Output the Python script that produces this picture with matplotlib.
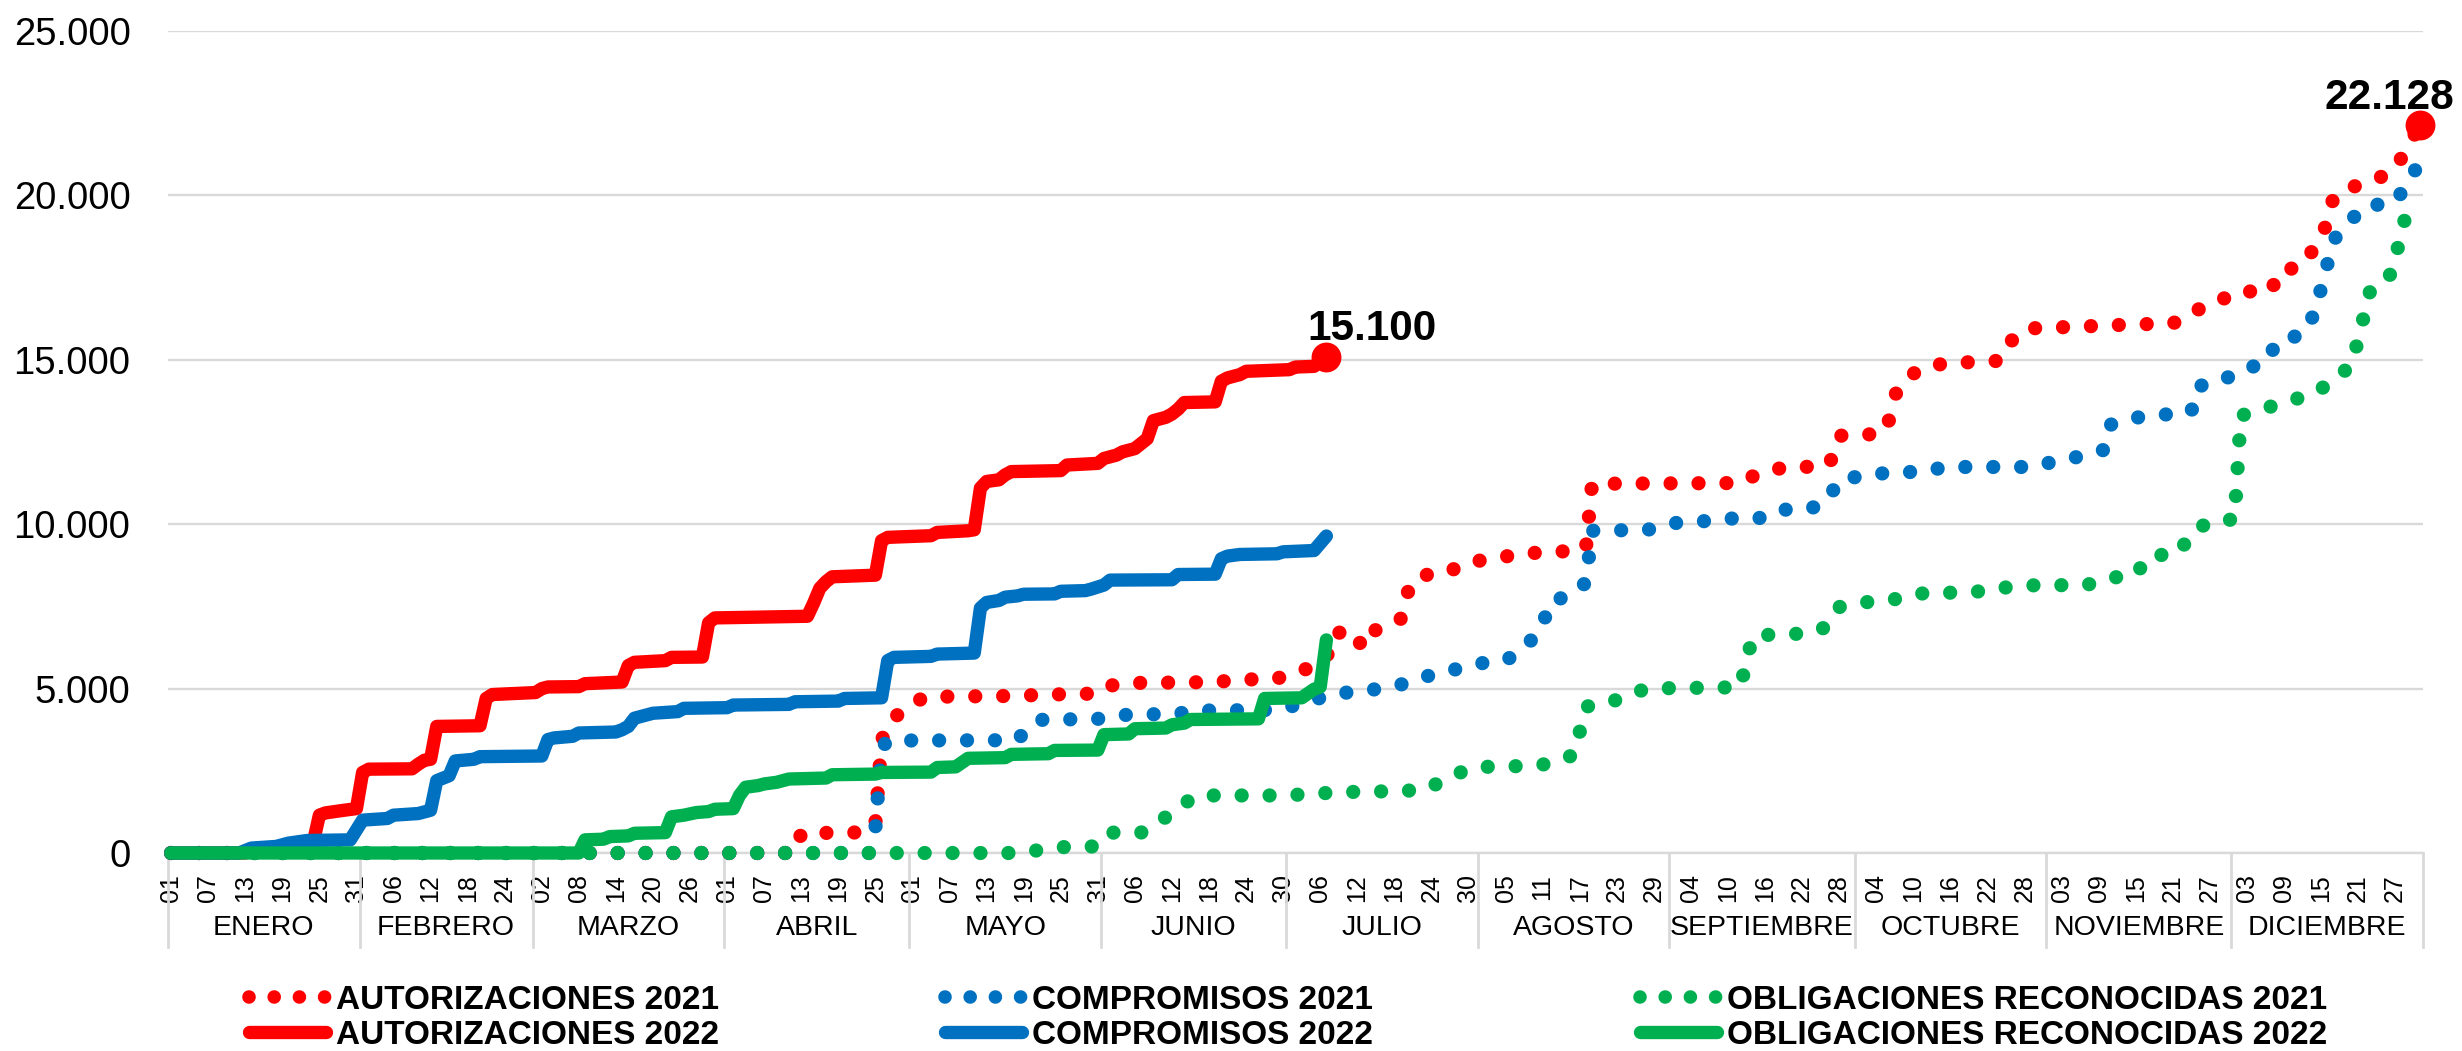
import matplotlib
matplotlib.use("Agg")
import matplotlib.pyplot as plt
import matplotlib.transforms as mtransforms
from matplotlib.lines import Line2D
from matplotlib.ticker import FuncFormatter

plt.rcParams["font.family"] = ["Liberation Sans", "DejaVu Sans"]

# day index 0 = 01 enero, 364 = 31 diciembre; values as cumulative amounts
aut22_days = [0, 12, 13, 17, 19, 22, 23, 24, 25, 28, 30, 31, 32, 39, 40, 41, 42, 43, 50, 51, 52,
              59, 60, 61, 66, 67, 73, 74, 75, 80, 81, 86, 87, 88, 103, 104, 105, 106, 107, 114,
              115, 116, 123, 124, 129, 130, 131, 132, 134, 135, 136, 144, 145, 150, 151, 153, 154,
              156, 157, 158, 159, 161, 162, 163, 164, 169, 170, 171, 173, 174, 181, 182, 185, 187]
aut22_vals = [0, 0, 60, 150, 230, 300, 310, 1150, 1220, 1300, 1350, 2450, 2550, 2560, 2700, 2820,
              2850, 3850, 3870, 4700, 4820, 4880, 5000, 5050, 5060, 5150, 5200, 5700, 5800, 5850,
              5950, 5960, 7000, 7150, 7200, 7600, 8050, 8250, 8400, 8450, 9500, 9600, 9650, 9750,
              9800, 9830, 11100, 11300, 11350, 11500, 11600, 11630, 11800, 11850, 12000, 12100,
              12200, 12300, 12450, 12600, 13150, 13250, 13350, 13500, 13700, 13720, 14350, 14450,
              14550, 14650, 14700, 14780, 14800, 15100]

comp22_days = [0, 11, 13, 17, 19, 22, 29, 30, 31, 35, 36, 40, 42, 43, 45, 46, 49, 50, 60, 61, 62,
               65, 66, 72, 73, 74, 75, 76, 78, 82, 83, 90, 91, 100, 101, 108, 109, 115, 116, 117,
               123, 124, 130, 131, 132, 134, 135, 137, 138, 143, 144, 148, 149, 151, 152, 162, 163,
               169, 170, 171, 173, 179, 180, 185, 187]
comp22_vals = [0, 0, 150, 200, 300, 380, 400, 700, 1000, 1050, 1150, 1200, 1300, 2200, 2350, 2800,
               2850, 2930, 2950, 3450, 3500, 3550, 3650, 3680, 3750, 3850, 4100, 4150, 4250, 4300,
               4400, 4420, 4500, 4520, 4600, 4620, 4700, 4720, 5850, 5950, 5980, 6050, 6080, 7450,
               7620, 7680, 7780, 7820, 7870, 7880, 7960, 7980, 8030, 8150, 8300, 8310, 8470, 8480,
               8950, 9030, 9080, 9100, 9160, 9200, 9640]

oblig22_days = [0, 66, 67, 70, 71, 74, 75, 80, 81, 83, 85, 87, 88, 91, 92, 93, 95, 96, 98, 100,
                106, 107, 114, 115, 123, 124, 127, 129, 135, 136, 142, 143, 150, 151, 155, 156,
                161, 162, 164, 165, 176, 177, 183, 185, 186, 187]
oblig22_vals = [0, 0, 400, 420, 500, 520, 600, 620, 1100, 1150, 1230, 1260, 1330, 1350, 1750, 2000,
                2050, 2100, 2150, 2250, 2280, 2380, 2400, 2450, 2460, 2600, 2620, 2880, 2900, 3000,
                3020, 3120, 3130, 3600, 3620, 3780, 3800, 3900, 3950, 4060, 4080, 4700, 4720, 4980,
                5050, 6480]

aut21_days = [0, 101, 102, 113, 114, 115, 116, 119, 122, 138, 140, 150, 152, 155, 170, 171, 179,
              180, 183, 186, 187, 188, 191, 193, 195, 199, 200, 202, 206, 210, 214, 218, 227, 228,
              229, 230, 252, 253, 257, 261, 268, 269, 270, 277, 278, 279, 280, 283, 287, 296, 298,
              300, 309, 318, 324, 327, 331, 334, 340, 341, 345, 347, 349, 350, 353, 357, 360, 362,
              364]
aut21_vals = [0, 0, 600, 630, 900, 3400, 3950, 4420, 4750, 4780, 4810, 4850, 5090, 5170, 5200,
              5260, 5300, 5380, 5520, 5850, 5900, 6650, 6790, 6230, 6790, 7110, 7880, 8450, 8480,
              8860, 8930, 9100, 9190, 9200, 9250, 11230, 11250, 11400, 11470, 11740, 11750, 12050,
              12690, 12750, 13120, 13900, 14280, 14720, 14890, 14970, 15600, 15950, 16010, 16080,
              16100, 16460, 16710, 17070, 17090, 17680, 17850, 18440, 19150, 19940, 20250, 20490,
              20800, 21480, 22128]

comp21_days = [0, 113, 114, 115, 116, 137, 139, 141, 150, 152, 155, 163, 165, 179, 181, 183, 187,
               191, 195, 200, 204, 208, 212, 216, 219, 222, 223, 227, 229, 230, 239, 243, 248, 252,
               257, 260, 265, 268, 270, 274, 278, 284, 287, 301, 305, 310, 313, 314, 318, 322, 327,
               328, 332, 335, 339, 341, 345, 347, 348, 349, 350, 352, 355, 360, 362, 364]
comp21_vals = [0, 0, 750, 3200, 3420, 3430, 3900, 4050, 4080, 4140, 4210, 4230, 4330, 4350, 4450,
               4530, 4780, 4900, 4980, 5160, 5420, 5590, 5770, 5850, 6230, 6870, 7620, 7880, 8230,
               9800, 9830, 10030, 10090, 10170, 10180, 10440, 10450, 10680, 11360, 11470, 11570,
               11600, 11740, 11740, 11910, 12100, 12270, 13030, 13240, 13320, 13420, 14190, 14360,
               14700, 14890, 15590, 15760, 16430, 17170, 17890, 18640, 19080, 19670, 19780, 20400,
               21000]

oblig21_days = [0, 137, 141, 145, 150, 152, 157, 160, 163, 166, 180, 185, 189, 198, 203, 206, 210,
                214, 219, 223, 227, 228, 229, 233, 237, 241, 254, 255, 256, 260, 265, 268, 270,
                274, 279, 283, 292, 296, 301, 310, 314, 318, 320, 325, 327, 330, 334, 335, 339, 343,
                347, 350, 353, 354, 355, 356, 359, 360, 361, 362, 364]
oblig21_vals = [0, 0, 100, 190, 200, 620, 620, 950, 1380, 1750, 1750, 1800, 1850, 1880, 1920, 2220,
                2560, 2640, 2640, 2710, 2980, 3680, 4450, 4580, 4920, 5010, 5040, 5830, 6590, 6660,
                6670, 6880, 7480, 7620, 7720, 7890, 7940, 8060, 8140, 8150, 8370, 8450, 9030, 9110,
                9760, 10070, 10150, 13300, 13530, 13750, 14000, 14360, 14860, 15620, 16380, 17140,
                17500, 18070, 18870, 19600, 19800]

month_names = ["ENERO", "FEBRERO", "MARZO", "ABRIL", "MAYO", "JUNIO", "JULIO", "AGOSTO",
               "SEPTIEMBRE", "OCTUBRE", "NOVIEMBRE", "DICIEMBRE"]
month_starts = [0, 31, 59, 90, 120, 151, 181, 212, 243, 273, 304, 334, 365]
day_labels = ["01", "07", "13", "19", "25", "31", "06", "12", "18", "24", "02", "08", "14", "20",
              "26", "01", "07", "13", "19", "25", "01", "07", "13", "19", "25", "31", "06", "12",
              "18", "24", "30", "06", "12", "18", "24", "30", "05", "11", "17", "23", "29", "04",
              "10", "16", "22", "28", "04", "10", "16", "22", "28", "03", "09", "15", "21", "27",
              "03", "09", "15", "21", "27"]

RED, BLUE, GREEN = "#FF0000", "#0070C0", "#00B050"
GRID = "#D9D9D9"
W, H = 2462, 1051

fig = plt.figure(figsize=(W / 100, H / 100), dpi=100)
ax = fig.add_axes([168 / W, 1 - 853 / H, (2423 - 168) / W, (853 - 31) / H])
ax.set_xlim(-0.5, 364.5)
ax.set_ylim(0, 25000)

dot_style = dict(linestyle=(0, (0.001, 1.95)), dash_capstyle="round", lw=10.3, clip_on=False)
solid_style = dict(lw=9.6, solid_capstyle="round", solid_joinstyle="round", clip_on=False)

ax.plot(aut21_days, aut21_vals, color=RED, zorder=3, **dot_style)
ax.plot(comp21_days, comp21_vals, color=BLUE, zorder=3, **dot_style)
ax.plot(oblig21_days, oblig21_vals, color=GREEN, zorder=3, **dot_style)
ax.plot(aut22_days, aut22_vals, color=RED, zorder=4, **solid_style)
ax.plot(comp22_days, comp22_vals, color=BLUE, zorder=4, **solid_style)
ax.plot(oblig22_days, oblig22_vals, color=GREEN, zorder=4, **solid_style)

# end markers with labels
for d, v, off in [(aut22_days[-1], aut22_vals[-1], (33, 12)),
                  (aut21_days[-1], aut21_vals[-1], (-22, 12))]:
    ax.plot([d], [v], "o", ms=20.5, color=RED, zorder=6, clip_on=False)
    ax.annotate(f"{v:,}".replace(",", "."), xy=(d, v), xytext=off, textcoords="offset points",
                ha="center", va="baseline", fontsize=30.5, fontweight="bold", zorder=7)

# axes styling
for s in ["top", "right", "left"]:
    ax.spines[s].set_visible(False)
ax.spines["bottom"].set_color(GRID)
ax.spines["bottom"].set_linewidth(1.7)
ax.yaxis.grid(True, color=GRID, lw=1.7)
ax.set_axisbelow(True)
ax.set_yticks(range(0, 25001, 5000))
ax.yaxis.set_major_formatter(FuncFormatter(lambda v, p: f"{int(v):,}".replace(",", ".")))
ax.tick_params(axis="y", length=0, pad=27, labelsize=27.5)
ax.set_xticks(range(0, 361, 6))
ax.set_xticklabels(day_labels, rotation=90)
ax.tick_params(axis="x", length=0, pad=15, labelsize=18)

# month boxes under the day labels
trans = mtransforms.blended_transform_factory(ax.transData, ax.transAxes)
sep_bottom = -(947 - 853) / (853 - 31)
for m in month_starts:
    ax.plot([m - 0.5, m - 0.5], [0, sep_bottom], color=GRID, lw=2, transform=trans, clip_on=False)
for i, name in enumerate(month_names):
    mid = (month_starts[i] + month_starts[i + 1]) / 2 - 0.5
    ax.text(mid, -(928 - 853) / (853 - 31), name, transform=trans, ha="center", va="center",
            fontsize=20.5)

# legend: three columns of two entries
cols = [("AUTORIZACIONES", RED, 249), ("COMPROMISOS", BLUE, 945),
        ("OBLIGACIONES RECONOCIDAS", GREEN, 1640)]
for name, color, x0 in cols:
    handles = [Line2D([], [], color=color, lw=9.8, linestyle=(0, (0.001, 1.85)), dash_capstyle="round"),
               Line2D([], [], color=color, lw=9.6, solid_capstyle="round")]
    leg = fig.legend(handles, [f"{name} 2021", f"{name} 2022"], loc="center left",
                     bbox_to_anchor=(x0 / W, 1 - 1018 / H), frameon=False,
                     prop={"size": 24, "weight": "bold"}, handlelength=2.3,
                     handletextpad=0.3, labelspacing=0.12, borderpad=0, borderaxespad=0)

fig.savefig("out.png", dpi=100)
